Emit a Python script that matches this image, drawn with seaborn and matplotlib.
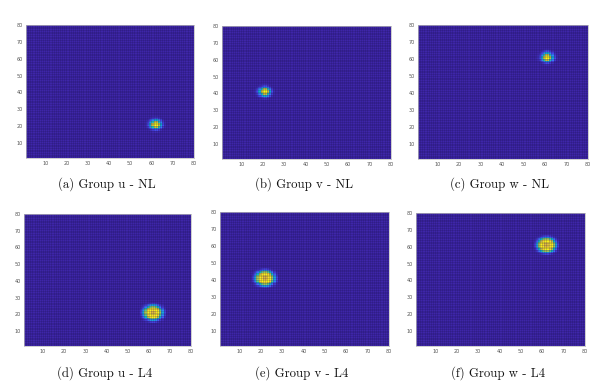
import numpy as np
import matplotlib
matplotlib.use("Agg")
import matplotlib.pyplot as plt
from matplotlib.colors import LinearSegmentedColormap
import seaborn as sns

# grid is 80 x 80 vertices -> 79 x 79 faces
n_cells = 79
tick_vals = [10, 20, 30, 40, 50, 60, 70, 80]

captions = ["(a) Group u - NL", "(b) Group v - NL", "(c) Group w - NL",
            "(d) Group u - L4", "(e) Group v - L4", "(f) Group w - L4"]

# peak locations (x, y)
centres = [(62, 21), (21, 41), (61, 61), (62, 21), (22, 41), (62, 61)]

# NL: sharp peak, 10 x 10 patch of values
nl_patch = [
    [0.00, 0.00, 0.00, 0.01, 0.02, 0.02, 0.01, 0.00, 0.00, 0.00],
    [0.00, 0.00, 0.02, 0.06, 0.11, 0.11, 0.06, 0.02, 0.00, 0.00],
    [0.00, 0.02, 0.10, 0.24, 0.38, 0.38, 0.24, 0.10, 0.02, 0.00],
    [0.01, 0.06, 0.24, 0.52, 0.78, 0.78, 0.52, 0.24, 0.06, 0.01],
    [0.02, 0.11, 0.38, 0.78, 1.00, 1.00, 0.78, 0.38, 0.11, 0.02],
    [0.02, 0.11, 0.38, 0.78, 1.00, 1.00, 0.78, 0.38, 0.11, 0.02],
    [0.01, 0.06, 0.24, 0.52, 0.78, 0.78, 0.52, 0.24, 0.06, 0.01],
    [0.00, 0.02, 0.10, 0.24, 0.38, 0.38, 0.24, 0.10, 0.02, 0.00],
    [0.00, 0.00, 0.02, 0.06, 0.11, 0.11, 0.06, 0.02, 0.00, 0.00],
    [0.00, 0.00, 0.00, 0.01, 0.02, 0.02, 0.01, 0.00, 0.00, 0.00],
]

# L4: wider, flat-topped peak with a small dip in the middle
l4_patch = [
    [0.00, 0.00, 0.01, 0.03, 0.06, 0.08, 0.08, 0.06, 0.03, 0.01, 0.00, 0.00],
    [0.00, 0.02, 0.06, 0.15, 0.26, 0.33, 0.33, 0.26, 0.15, 0.06, 0.02, 0.00],
    [0.01, 0.06, 0.20, 0.42, 0.60, 0.70, 0.70, 0.60, 0.42, 0.20, 0.06, 0.01],
    [0.03, 0.15, 0.42, 0.72, 0.90, 0.95, 0.95, 0.90, 0.72, 0.42, 0.15, 0.03],
    [0.06, 0.26, 0.60, 0.90, 0.97, 0.92, 0.92, 0.97, 0.90, 0.60, 0.26, 0.06],
    [0.08, 0.33, 0.70, 0.95, 0.92, 0.80, 0.80, 0.92, 0.95, 0.70, 0.33, 0.08],
    [0.08, 0.33, 0.70, 0.95, 0.92, 0.80, 0.80, 0.92, 0.95, 0.70, 0.33, 0.08],
    [0.06, 0.26, 0.60, 0.90, 0.97, 0.92, 0.92, 0.97, 0.90, 0.60, 0.26, 0.06],
    [0.03, 0.15, 0.42, 0.72, 0.90, 0.95, 0.95, 0.90, 0.72, 0.42, 0.15, 0.03],
    [0.01, 0.06, 0.20, 0.42, 0.60, 0.70, 0.70, 0.60, 0.42, 0.20, 0.06, 0.01],
    [0.00, 0.02, 0.06, 0.15, 0.26, 0.33, 0.33, 0.26, 0.15, 0.06, 0.02, 0.00],
    [0.00, 0.00, 0.01, 0.03, 0.06, 0.08, 0.08, 0.06, 0.03, 0.01, 0.00, 0.00],
]

# approx MATLAB parula
parula = LinearSegmentedColormap.from_list("parula", [
    (0.00, (0.2422, 0.1504, 0.6603)),
    (0.10, (0.2803, 0.2782, 0.9221)),
    (0.20, (0.2440, 0.4358, 0.9988)),
    (0.30, (0.1540, 0.5902, 0.9218)),
    (0.40, (0.0590, 0.6838, 0.8266)),
    (0.50, (0.1098, 0.7452, 0.7230)),
    (0.60, (0.3256, 0.7800, 0.5457)),
    (0.70, (0.5720, 0.7743, 0.3908)),
    (0.80, (0.8310, 0.7320, 0.2430)),
    (0.90, (0.9856, 0.7372, 0.2537)),
    (0.95, (0.9670, 0.8750, 0.1750)),
    (1.00, (0.9769, 0.9839, 0.0805)),
])

sns.set_style("white")

W, H = 612, 388
fig = plt.figure(figsize=(W / 100, H / 100), dpi=100)

# axes boxes in pixels: left, top, right, bottom
boxes = [(26, 25, 194, 158), (222, 26, 391, 159), (418, 25, 588, 159),
         (24, 214, 191, 346), (220, 212, 389, 346), (416, 213, 585, 346)]
cap_x = [107, 304, 500, 105, 302, 498]
cap_y = [184, 184, 184, 373, 373, 373]

for i in range(6):
    l, t, r, b = boxes[i]
    ax = fig.add_axes([l / W, 1 - b / H, (r - l) / W, (b - t) / H])
    field = np.zeros((n_cells, n_cells))
    patch = np.array(nl_patch if i < 3 else l4_patch)
    k = patch.shape[0] // 2
    cx, cy = centres[i]
    # data coordinate v sits at cell edge v - 1
    field[cy - 1 - k:cy - 1 + k, cx - 1 - k:cx - 1 + k] = patch
    sns.heatmap(field, ax=ax, cmap=parula, cbar=False,
                xticklabels=False, yticklabels=False, square=False)
    ax.invert_yaxis()
    # mesh edges like a matlab surf
    edges = np.arange(n_cells + 1)
    ax.vlines(edges, 0, n_cells, color="#140c40", lw=0.4, alpha=0.3)
    ax.hlines(edges, 0, n_cells, color="#140c40", lw=0.4, alpha=0.3)
    ax.set_xticks([v - 1 for v in tick_vals])
    ax.set_xticklabels(tick_vals)
    ax.set_yticks([v - 1 for v in tick_vals])
    ax.set_yticklabels(tick_vals)
    ax.tick_params(labelsize=3.5, colors="#555555", length=1.2, width=0.4,
                   direction="in", pad=2)
    for s in ax.spines.values():
        s.set_visible(True)
        s.set_color("#bbbbbb")
        s.set_linewidth(0.5)
    fig.text(cap_x[i] / W, 1 - cap_y[i] / H, captions[i], ha="center",
             va="center", fontsize=9.2, family="cmr10", color="#111111")

fig.savefig("out.png", dpi=100)
